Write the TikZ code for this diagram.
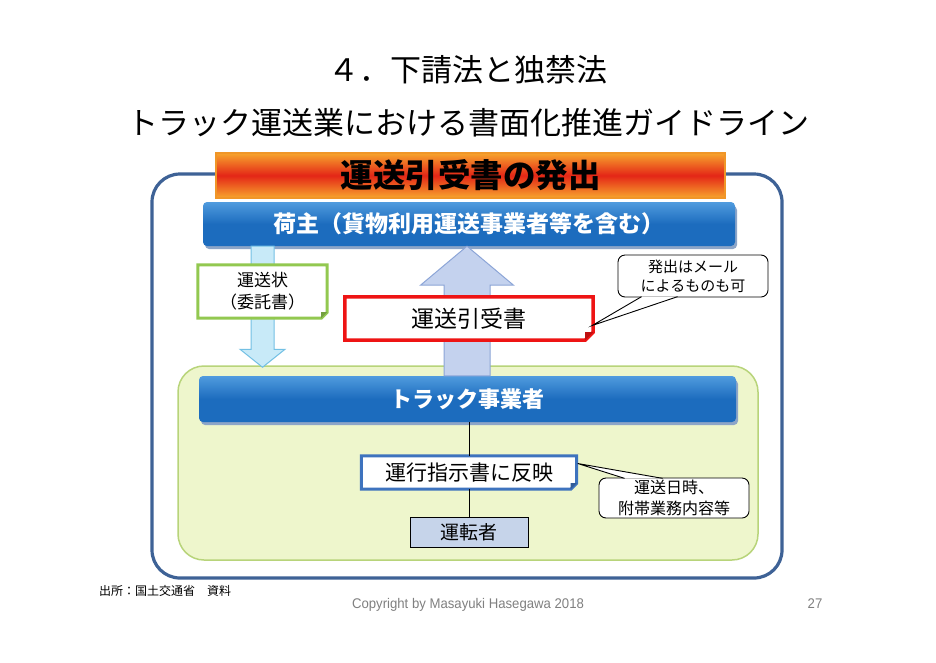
\documentclass[tikz,border=0pt]{standalone}
\usepackage{fontspec}
\setmainfont{Noto Sans CJK JP}
\newfontfamily\latinfont[FakeStretch=0.94]{Liberation Sans}
\usetikzlibrary{calc}
\definecolor{outerblue}{RGB}{62,98,150}
\definecolor{bannerOr}{RGB}{247,165,45}
\definecolor{bannerRed}{RGB}{228,38,22}
\definecolor{bannerEdge}{RGB}{240,150,40}
\definecolor{barBlue}{RGB}{28,108,190}
\definecolor{barTop}{RGB}{80,155,222}
\definecolor{barShadow}{RGB}{140,165,200}
\definecolor{noteGreen}{RGB}{146,200,80}
\definecolor{dArrowFill}{RGB}{200,234,248}
\definecolor{dArrowDraw}{RGB}{115,192,228}
\definecolor{uArrowFill}{RGB}{196,210,238}
\definecolor{uArrowDraw}{RGB}{140,165,215}
\definecolor{greenFill}{RGB}{238,246,204}
\definecolor{greenDraw}{RGB}{184,212,122}
\definecolor{redBorder}{RGB}{238,20,20}
\definecolor{shijiBlue}{RGB}{62,115,190}
\definecolor{driverFill}{RGB}{198,212,234}
\definecolor{footGray}{RGB}{128,128,128}
\tikzset{
  titletext/.style={font=\fontsize{31}{31}\selectfont, inner sep=0pt},
  bannerbox/.style={draw=bannerEdge, line width=2pt, top color=bannerOr, bottom color=bannerOr, middle color=bannerRed,
     font=\bfseries\fontsize{32.5}{32.5}\selectfont, inner sep=0pt},
  barbox/.style={rounded corners=4pt, top color=barTop, bottom color=barBlue, middle color=barBlue,
     text=white, font=\bfseries\fontsize{23}{23}\selectfont, inner sep=0pt},
  notebox/.style={inner sep=0pt, align=center},
  calloutbox/.style={draw=black, line width=0.9pt, rounded corners=7pt, fill=white, inner sep=0pt, align=center},
  connector/.style={draw=black, line width=1pt},
}
% folded-corner outline around a named node: #1 node, #2 cut size, #3 colour, #4 line width
\newcommand\foldnote[4]{%
  \draw[draw=#3, line width=#4, fill=white, line join=miter]
    (#1.north west) -- (#1.north east) -- ($(#1.south east)+(0,-#2)$) -- ($(#1.south east)+(-#2,0)$)
    -- (#1.south west) -- cycle;
  \fill[#3!80!black] ($(#1.south east)+(0,-#2)$) -- ($(#1.south east)+(-#2,0)$) -- ($(#1.south east)+(-#2,-#2)$) -- cycle;
}
\begin{document}
\begin{tikzpicture}[x=1pt,y=-1pt]
\useasboundingbox (0,0) rectangle (936,662);
\fill[white] (0,0) rectangle (936,662);

% titles
\node[titletext] (t1) at (468,70) {４．下請法と独禁法};
\node[titletext] (t2) at (468,123) {トラック運送業における書面化推進ガイドライン};

% outer frame
\node[draw=outerblue, line width=3.2pt, rounded corners=28pt, fill=white,
      minimum width=630pt, minimum height=404pt, inner sep=0pt] (outer) at (467,376) {};

% banner
\node[bannerbox, minimum width=509pt, minimum height=45pt] (banner) at (470.5,175.5) {運送引受書の発出};

% green region
\node[draw=greenDraw, line width=1.5pt, fill=greenFill, rounded corners=26pt,
      minimum width=580pt, minimum height=194pt, inner sep=0pt] (green) at (468,463) {};

% shipper bar
\fill[barShadow, rounded corners=4pt] (205,206) rectangle (737,249);
\node[barbox, minimum width=532pt, minimum height=44pt] (ninushi) at (469,224) {荷主（貨物利用運送事業者等を含む）};

% truck bar
\fill[barShadow, rounded corners=4pt] (201,380) rectangle (738,425);
\node[barbox, minimum width=537pt, minimum height=46pt, font=\bfseries\fontsize{22}{22}\selectfont] (truck) at (467.5,399) {トラック事業者};

% down arrow (shipper -> truck region)
\coordinate (dx) at (262.5,0);
\coordinate (dtop) at (dx |- ninushi.south);
\coordinate (dtip) at ($(dx |- green.north)+(0,2)$);
\draw[fill=dArrowFill, draw=dArrowDraw, line width=1pt]
  ($(dtop)+(-11.5,0)$) -- ($(dtop)+(11.5,0)$) -- ($(dtip)+(11.5,-18)$) -- ($(dtip)+(22.5,-18)$)
  -- (dtip) -- ($(dtip)+(-22.5,-18)$) -- ($(dtip)+(-11.5,-18)$) -- cycle;

% up arrow (truck -> shipper)
\coordinate (ux) at (467,0);
\coordinate (ubase) at (ux |- truck.north);
\coordinate (utip) at (ux |- ninushi.south);
\draw[fill=uArrowFill, draw=uArrowDraw, line width=1pt]
  ($(ubase)+(-23,0)$) -- ($(utip)+(-23,39)$) -- ($(utip)+(-46.5,39)$) -- (utip)
  -- ($(utip)+(46.5,39)$) -- ($(utip)+(23,39)$) -- ($(ubase)+(23,0)$) -- cycle;

% green note
\path node[notebox, minimum width=129pt, minimum height=53pt] (jou) at (262.5,291.5) {};
\foldnote{jou}{6}{noteGreen}{3pt}
\node[notebox, font=\fontsize{17}{22}\selectfont] (joutext) at (jou.center) {運送状\\（委託書）};

% red box
\path node[notebox, minimum width=248pt, minimum height=43pt] (rbox) at (469,318.5) {};
\foldnote{rbox}{8}{redBorder}{3.5pt}
\node[notebox, font=\fontsize{23}{23}\selectfont] (rboxtext) at (rbox.center) {運送引受書};

% callout 1
\node[calloutbox, minimum width=150pt, minimum height=42pt, font=\fontsize{15}{19}\selectfont] (c1) at (693,276) {発出はメール\\によるものも可};
\coordinate (c1tip) at ($(rbox.east)+(-1,7)$);
\coordinate (c1a) at ($(c1.south west)+(24,-0.8)$);
\coordinate (c1b) at ($(c1.south west)+(60,-0.8)$);
\fill[white] (c1a) -- (c1tip) -- (c1b) -- cycle;
\draw[line width=0.9pt] (c1a) -- (c1tip) -- (c1b);

% instruction box
\path node[notebox, minimum width=215pt, minimum height=33pt] (shiji) at (469,472.5) {};
\foldnote{shiji}{6}{shijiBlue}{3pt}
\node[notebox, font=\fontsize{21}{21}\selectfont] (shijitext) at (shiji.center) {運行指示書に反映};

% callout 2
\node[calloutbox, minimum width=150pt, minimum height=40pt, font=\fontsize{16}{21}\selectfont] (c2) at (674,498) {運送日時、\\附帯業務内容等};
\coordinate (c2tip) at ($(shiji.east)+(1,-9)$);
\coordinate (c2a) at ($(c2.north west)+(26,0.8)$);
\coordinate (c2b) at ($(c2.north west)+(64,0.8)$);
\fill[white] (c2a) -- (c2tip) -- (c2b) -- cycle;
\draw[line width=0.9pt] (c2a) -- (c2tip) -- (c2b);

% driver
\node[draw=black, line width=1pt, fill=driverFill, minimum width=118pt, minimum height=30pt,
      inner sep=0pt, font=\fontsize{19}{19}\selectfont] (driver) at (469,532) {運転者};

% connectors
\draw[connector] (shiji.north |- truck.south) -- (shiji.north);
\draw[connector] (shiji.south) -- (driver.north);

% footer
\node[anchor=west, inner sep=0pt, font=\fontsize{12}{12}\selectfont] (src) at (99,591) {出所：国土交通省　資料};
\node[inner sep=0pt, text=footGray, font=\latinfont\fontsize{14}{14}\selectfont] (copy) at (468,605) {Copyright by Masayuki Hasegawa 2018};
\node[inner sep=0pt, text=footGray, font=\latinfont\fontsize{14}{14}\selectfont] (pg) at (815,604) {27};
\end{tikzpicture}
\end{document}
